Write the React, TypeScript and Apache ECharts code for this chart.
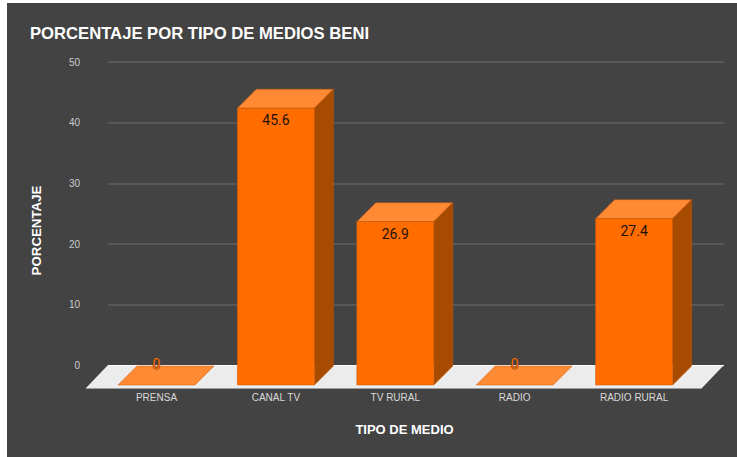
import React, { useEffect, useRef } from "react";
import * as echarts from "echarts";

const categories = ["PRENSA", "CANAL TV", "TV RURAL", "RADIO", "RADIO RURAL"];
const values = [0, 45.6, 26.9, 0, 27.4];
const yTicks = { min: 0, max: 50, interval: 10 };

const SANS = '"Liberation Sans", Arial, sans-serif';
const FRONT = "#ff6d01";
const TOP = "#ff8a33";
const SIDE = "#a64b00";
const DEPTH = 19;

function renderBar(params: any, api: any) {
  const i = api.value(0);
  const v = api.value(1);
  const [cx, yTop] = api.coord([i, v]);
  const [, yBase] = api.coord([i, 0]);
  const w = api.size([1, 0])[0] * 0.645;
  const x0 = cx - w / 2;
  const x1 = cx + w / 2;
  const children: any[] = [];
  const edge = { stroke: "#c85a0a", lineWidth: 0.5 };
  children.push({
    type: "polygon",
    shape: { points: [[x0, yTop], [x1, yTop], [x1 + DEPTH, yTop - DEPTH], [x0 + DEPTH, yTop - DEPTH]] },
    style: { fill: TOP, ...edge },
  });
  if (v > 0) {
    children.push({
      type: "polygon",
      shape: { points: [[x1, yTop], [x1 + DEPTH, yTop - DEPTH], [x1 + DEPTH, yBase - DEPTH], [x1, yBase]] },
      style: { fill: SIDE, ...edge },
    });
    children.push({
      type: "rect",
      shape: { x: x0, y: yTop, width: w, height: yBase - yTop },
      style: { fill: FRONT, ...edge },
    });
  }
  children.push({
    type: "text",
    x: cx,
    y: v > 0 ? yTop + 12 : yBase - 21,
    style: {
      text: String(v),
      align: "center",
      verticalAlign: "middle",
      font: "14px Roboto, sans-serif",
      fill: v > 0 ? "#1f1208" : FRONT,
      stroke: v > 0 ? undefined : "#4a3a30",
      lineWidth: v > 0 ? 0 : 1,
    },
  });
  return { type: "group", children };
}

export default function App() {
  const ref = useRef<HTMLDivElement>(null);
  useEffect(() => {
    const chart = echarts.init(ref.current!, null, { renderer: "svg" });
    chart.setOption({
      animation: false,
      backgroundColor: "transparent",
      title: {
        text: "PORCENTAJE POR TIPO DE MEDIOS BENI",
        left: 30,
        top: 25,
        padding: 0,
        textStyle: { color: "#ffffff", fontFamily: SANS, fontWeight: "bold", fontSize: 16.65 },
      },
      grid: [
        { left: 108, top: 62, width: 616, height: 303.5 },
        { left: 96.8, top: 81.5, width: 597, height: 303.5 },
      ],
      xAxis: [
        { type: "category", gridIndex: 0, data: categories, show: false },
        {
          type: "category",
          gridIndex: 1,
          data: categories,
          axisLine: { show: false },
          axisTick: { show: false },
          axisLabel: { color: "#d9d9d9", fontFamily: SANS, fontSize: 10, margin: 7, interval: 0 },
        },
      ],
      yAxis: [
        {
          type: "value",
          gridIndex: 0,
          min: yTicks.min,
          max: yTicks.max,
          interval: yTicks.interval,
          axisLine: { show: false },
          axisTick: { show: false },
          axisLabel: { color: "#cccccc", fontFamily: SANS, fontSize: 10, margin: 28 },
          splitLine: { lineStyle: { color: "#5f5f5f", width: 1.5 } },
        },
        {
          type: "value",
          gridIndex: 1,
          min: yTicks.min,
          max: yTicks.max,
          interval: yTicks.interval,
          axisLine: { show: false },
          axisTick: { show: false },
          axisLabel: { show: false },
          splitLine: { show: false },
        },
      ],
      graphic: [
        {
          type: "polygon",
          z: 1,
          shape: { points: [[108, 365], [724, 365], [702, 388], [86, 388]] },
          style: { fill: "#ececec" },
        },
        {
          type: "line",
          z: 1,
          shape: { x1: 108, y1: 365.5, x2: 724, y2: 365.5 },
          style: { stroke: "#ffffff", lineWidth: 1 },
        },
        {
          type: "line",
          z: 1,
          shape: { x1: 86, y1: 388.5, x2: 702, y2: 388.5 },
          style: { stroke: "#9e9e9e", lineWidth: 1 },
        },
        {
          type: "text",
          x: 404.5,
          y: 429,
          style: {
            text: "TIPO DE MEDIO",
            align: "center",
            verticalAlign: "middle",
            fill: "#ffffff",
            font: `bold 13px ${SANS}`,
          },
        },
        {
          type: "text",
          x: 36,
          y: 230.5,
          rotation: Math.PI / 2,
          style: {
            text: "PORCENTAJE",
            align: "center",
            verticalAlign: "middle",
            fill: "#ffffff",
            font: `bold 13.3px ${SANS}`,
          },
        },
      ],
      series: [
        {
          type: "custom",
          xAxisIndex: 1,
          yAxisIndex: 1,
          z: 5,
          clip: false,
          renderItem: renderBar,
          encode: { x: 0, y: 1 },
          data: values.map((v, i) => [i, v]),
        },
      ],
    });
    return () => chart.dispose();
  }, []);
  return (
    <div style={{ position: "absolute", left: 0, top: 0, width: 737, height: 457, background: "#ffffff", overflow: "hidden" }}>
      <div style={{ position: "absolute", left: 7, top: 3, width: 730, height: 454, background: "#434343" }} />
      <div ref={ref} style={{ position: "absolute", left: 0, top: 0, width: 737, height: 457 }} />
    </div>
  );
}
